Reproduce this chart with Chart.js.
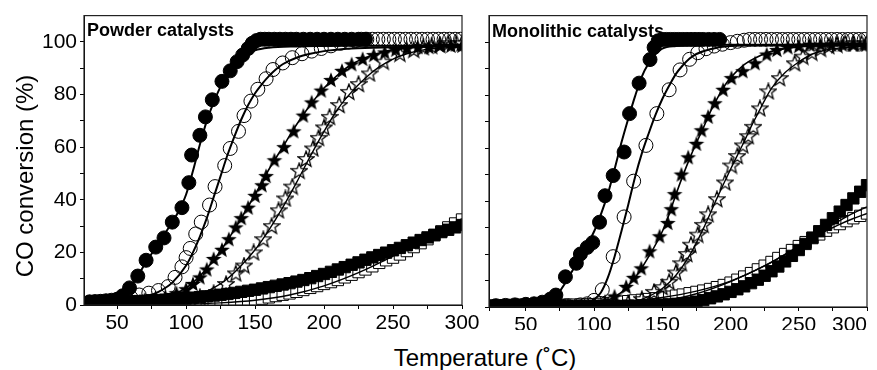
<!DOCTYPE html>
<html><head><meta charset="utf-8">
<script src="https://cdn.jsdelivr.net/npm/chart.js@4.4.0/dist/chart.umd.min.js"></script>
<style>
html,body{margin:0;padding:0;background:#fff;}
#wrap{position:relative;width:877px;height:370px;overflow:hidden;font-family:"Liberation Sans",Arial,sans-serif;color:#000;}
.pane{position:absolute;top:0;height:330px;}
.lab{position:absolute;white-space:nowrap;font-family:"Liberation Sans",Arial,sans-serif;color:#000;}
</style></head><body>
<div id="wrap">
 <div class="pane" style="left:0;width:485px"><canvas id="c1"></canvas></div>
 <div class="pane" style="left:470px;width:407px"><canvas id="c2"></canvas></div>
 <div class="lab" style="left:87px;top:21px;font-weight:bold;font-size:18px;line-height:18px">Powder catalysts</div>
 <div class="lab" style="left:492px;top:22px;font-weight:bold;font-size:18px;line-height:18px">Monolithic catalysts</div>
 <div class="lab" style="left:335px;top:346px;width:300px;text-align:center;font-size:24px;line-height:24px">Temperature (˚C)</div>
 <div class="lab" style="left:-125px;top:164px;width:300px;text-align:center;font-size:24px;line-height:24px;transform:rotate(-90deg)">CO conversion (%)</div>
</div>
<script>
// ---------- tick labels ----------
const xTickVals = [50,75,100,125,150,175,200,225,250,275,300];
const yTickVals = [0,10,20,30,40,50,60,70,80,90,100];

// ---------- Powder catalysts ----------
const powderFilledCircles = [[30,1.2],[34,1.3],[38,1.4],[42,1.6],[46,1.8],[50,2.2],[54,3.5],[59,6.5],[65,11],[71,17],[78,22],[84,25.5],[90,31.5],[97,37],[102,46.5],[104,57],[110,64.5],[114,71.5],[119,78],[126,85],[132,89],[137,92.5],[141,95],[145,97.5],[148,99.5],[151,100.5],[154,101],[157,101],[160,101],[164,101],[168,101],[172,101],[176,101],[180,101],[185,101],[190,101],[195,101],[200,101],[205,101],[210,101],[215,101],[220,101],[225,101],[230,101]];
const powderOpenCircles = [[30,1],[36,1],[42,1.2],[48,1.5],[54,2],[60,2.8],[66,3.8],[73,4.5],[80,5.5],[87,7],[92,10.5],[97,14.5],[100,18],[103,21.5],[107,27],[111,31.5],[117,38],[121,45],[128,53],[132,59.5],[138,66],[142,72],[147,77.5],[152,82],[158,86],[163,89.5],[170,92],[177,94],[184,95.5],[191,96.5],[198,97.5],[205,98.5],[212,99.5],[218,100],[223,100.5],[227,101],[231,101],[235,101],[239,101],[243,101],[247,101],[251,101],[255,101],[259,101],[263,101],[267,101],[271,101],[275,101],[279,101],[283,101],[287,101],[291,101],[295,101],[299,101]];
const powderFilledStars = [[40,1],[50,1.2],[60,1.5],[70,2],[78,2.5],[85,3],[93,4.5],[100,6],[105,8],[110,10.5],[115,13.5],[120,17.5],[126,21],[131,25],[136,29.5],[140,33],[145,37],[150,41.5],[155,45.5],[158,49],[164,55],[171,60],[178,66],[185,72],[191,77],[198,81.5],[205,85.5],[213,89],[220,91.5],[228,93.5],[236,95],[244,96],[252,97],[260,97.5],[268,98],[276,98],[284,98.5],[292,98.5],[300,98.5]];
const powderOpenStars = [[60,0.5],[75,1],[90,1.5],[100,2],[110,3],[120,4.5],[129,8],[136,12],[142,15],[149,20],[156,25],[162,30],[167,36],[172,40.5],[177,45],[182,51],[187,55.5],[192,59.5],[196,63.5],[200,67.5],[204,71.5],[211,76],[218,81],[225,84],[233,88],[243,92.5],[255,95.5],[265,97],[272,98],[278,98.5],[284,99],[290,99.5],[296,99.5],[300,99.5]];
const powderSquareT = [30,35,40,45,50,55,60,65,70,75,80,85,90,95,100,105,110,115,120,125,130,135,140,145,150,155,160,165,170,175,180,185,190,195,200,205,210,215,220,225,230,235,240,245,250,255,260,265,270,275,280,285,290,295,300];
const powderFilledSquares = [1.0,1.0,1.0,1.1,1.2,1.3,1.4,1.5,1.6,1.8,1.9,2.0,2.2,2.4,2.6,2.8,3.0,3.3,3.6,3.9,4.2,4.6,5.0,5.4,5.8,6.3,6.8,7.3,7.8,8.3,8.9,9.5,10.2,11.0,11.8,12.6,13.5,14.4,15.3,16.2,17.2,18.1,19.0,19.9,20.8,21.7,22.7,23.7,24.7,25.7,26.7,27.7,28.6,29.5,30.4];
const powderOpenSquares = [0.3,0.3,0.3,0.3,0.3,0.3,0.3,0.3,0.3,0.3,0.3,0.4,0.4,0.4,0.5,0.5,0.6,0.7,0.8,1.0,1.1,1.3,1.5,1.7,2.0,2.4,2.9,3.4,3.9,4.4,5.0,5.7,6.5,7.2,8.0,8.7,9.5,10.5,11.5,12.5,13.5,14.7,16.0,17.0,18.0,19.2,20.5,22.0,23.5,25.0,26.5,28.0,29.5,31.0,32.5];
// fitted curves
const powderFitFC = [[28,1],[40,1.3],[50,2.3],[55,4],[60,7],[65,11],[70,15.5],[75,19.5],[80,23.5],[85,27.5],[90,31.5],[95,36],[100,42],[105,51],[110,61],[115,70],[120,77],[125,83],[130,87.5],[135,91],[140,93.5],[145,95.5],[150,96.8],[160,97.8],[180,98.3],[220,98.5],[300,98.5]];
const powderFitOC = [[40,0.8],[50,1],[60,2],[70,3],[80,5],[90,8.5],[100,15],[105,20],[110,26],[115,33],[120,41],[125,49],[130,57],[135,64],[140,70.5],[145,76],[150,80.5],[155,84],[160,87],[165,89.5],[170,91.5],[180,94],[190,95.5],[200,96.5],[220,97.5],[250,98],[300,98.5]];
const powderFitFS = [[50,0.8],[60,1],[70,1.5],[80,2.5],[90,4],[100,6.5],[110,11],[120,17],[130,24.5],[140,33],[150,42],[160,51.5],[170,60],[180,68.5],[190,76],[200,82.5],[210,87.5],[220,91.5],[230,94],[240,95.8],[250,97],[270,98],[300,98.5]];
const powderFitOS = [[60,0.5],[80,1],[100,2.5],[110,4],[120,6.5],[130,10],[140,15],[150,21],[160,28.5],[170,37],[180,46.5],[190,56.5],[200,66],[210,74.5],[220,81],[230,86.3],[240,90.5],[250,93.5],[260,95.5],[270,96.8],[285,97.7],[300,98]];
const powderFitFQ = [[28,0.6],[50,0.9],[75,1.4],[100,2.1],[125,3.4],[150,5.3],[175,7.9],[200,11.3],[225,15.6],[250,20.5],[275,25.6],[300,30.6]];
const powderFitOQ = [[28,0],[75,0.1],[100,0.3],[125,0.8],[150,1.8],[175,3.8],[200,7.3],[225,12.3],[250,18.6],[275,25.6],[300,32.8]];

// ---------- Monolithic catalysts ----------
const monoFilledCircles = [[28,0.5],[35,0.6],[42,0.8],[50,1],[56,1.2],[62,1.8],[68,3],[72,4.5],[79,11.4],[87,16.5],[90,20],[95,22.5],[99,24.3],[104,32],[108,42],[114,49.6],[122,58.5],[126,73],[133,84.5],[141,93.4],[144,98],[147,100.5],[150,101],[153,101],[156,101],[159,101],[162,101],[165,101],[168,101],[171,101],[174,101],[177,101],[180,101],[184,101],[188,101],[192,101]];
const monoOpenCircles = [[80,0.5],[90,0.8],[95,1.2],[100,2.5],[106,6.5],[114,19],[122,34],[129,47.5],[138,61],[146,73],[155,82],[163,89.5],[170,93.5],[176,96],[182,97.5],[188,98.5],[194,99.2],[200,99.8],[205,100.3],[210,100.7],[214,101],[218,101],[222,101],[226,101],[230,101],[234,101],[238,101],[242,101],[246,101],[250,101],[254,101],[258,101],[262,101],[266,101],[270,101],[274,101],[278,101],[282,101],[286,101],[290,101],[294,101],[298,101]];
const monoFilledStars = [[90,0.5],[100,1],[108,2],[115,4],[123.5,7.6],[129,11],[134.6,14.6],[140.7,21],[148,26.7],[154,31.7],[156.6,36.9],[159,42.6],[164,50],[169,56.5],[175,61.6],[178.7,66.7],[183.6,71.8],[188.5,76.9],[194.6,82],[200.7,86.4],[209,89],[218,92],[226.5,95.3],[234,97],[242,98],[250,98.5],[258,99],[266,99],[274,99],[282,99],[290,99],[298,99]];
const monoOpenStars = [[110,0.5],[125,1.5],[135,3],[144,5.7],[150,7.5],[155,9.5],[160,13],[164,16.5],[168,20],[171,23.5],[176,27.3],[180,31],[183.6,35],[190,40.7],[196,47],[200.7,53.4],[205,57],[209,61],[213,64.5],[216.7,68],[221.5,75],[227.7,81.4],[236,86.4],[247,92],[253,94.5],[259.6,96],[266,97.5],[272,98.5],[278,99],[284,99.5],[290,99.5],[296,99.5],[300,99.5]];
const monoSquareT = [25,30,35,40,45,50,55,60,65,70,75,80,85,90,95,100,105,110,115,120,125,130,135,140,145,150,155,160,165,170,175,180,185,190,195,200,205,210,215,220,225,230,235,240,245,250,255,260,265,270,275,280,285,290,295,300];
const monoFilledSquares = [0.6,0.6,0.7,0.8,0.9,0.9,0.8,0.7,0.6,0.5,0.5,0.4,0.4,0.4,0.4,0.4,0.4,0.4,0.4,0.4,0.5,0.5,0.6,0.7,0.8,0.9,1.0,1.2,1.4,1.6,2.0,2.6,3.3,4.0,4.8,5.7,6.7,7.8,9.0,10.3,11.8,13.5,15.3,17.2,19.3,21.5,23.8,26.2,28.6,31.0,33.5,36.0,38.5,41.0,43.5,46.0];
const monoOpenSquares = [0.3,0.3,0.4,0.4,0.5,0.5,0.6,0.6,0.7,0.7,0.8,0.8,0.9,0.9,1.0,1.0,1.2,1.5,1.7,2.0,2.2,2.5,2.7,3.0,3.3,3.6,3.9,4.3,4.7,5.2,5.7,6.2,6.8,7.5,8.3,9.2,10.3,11.5,12.8,14.2,15.6,17.0,18.5,20.0,21.5,23.0,24.5,26.0,27.4,28.8,30.1,31.3,32.4,33.5,34.4,35.3];
const monoFitFC = [[60,0.5],[65,1],[70,2.5],[75,6],[80,10],[85,14.5],[90,19],[95,23.5],[100,28.5],[105,35],[110,42.5],[115,52],[120,62],[125,71],[130,79.5],[135,87],[140,92],[145,95.5],[150,97.5],[160,98.5],[180,99],[300,99]];
const monoFitOC = [[85,0.5],[90,0.8],[95,1.5],[100,2.8],[105,5.5],[110,11],[115,19],[120,28.5],[125,38.5],[130,49],[135,58],[140,65.5],[145,72.5],[150,78.5],[155,83.5],[160,88],[165,91.2],[170,93.8],[175,95.5],[185,97.3],[200,98.5],[250,99],[300,99]];
const monoFitFS = [[90,0.5],[100,1],[110,2.5],[120,5.5],[130,11],[140,19],[150,28.5],[155,35],[160,42.5],[165,49.5],[170,56],[175,62],[180,67.5],[185,73.5],[190,78.5],[195,83],[200,86.5],[210,91.5],[220,94.5],[230,96.5],[240,97.5],[260,98.5],[300,99]];
const monoFitOS = [[110,0.5],[120,1],[130,2],[140,4],[150,7],[160,12],[170,19.5],[180,29.5],[190,41],[200,52],[210,62.5],[215,68],[220,73],[225,78],[230,82.5],[240,88.5],[250,92.5],[260,95.5],[270,97],[285,98],[300,98.5]];
const monoFitFQ = [[25,0.3],[75,0.3],[100,0.4],[125,0.9],[150,2.2],[175,5],[200,9.6],[225,15.6],[250,23],[260,26.3],[270,29.6],[280,32.6],[290,35.4],[300,37.8]];
const monoFitOQ = [[25,0.5],[75,0.8],[100,1.2],[125,2.1],[150,3.6],[175,6],[200,9.8],[225,15.5],[250,22.8],[260,25.8],[270,28.7],[280,31.2],[290,33.4],[300,35.3]];

// ---------- helpers ----------
const FONT = "'Liberation Sans', Arial, sans-serif";
const pts = a => a.map(p => ({x:p[0], y:p[1]}));
const zip = (T, Y) => T.map((t,i) => ({x:t, y:Y[i]}));

function starImg(filled){
  const c = document.createElement('canvas'); const s = 18; c.width = s; c.height = s;
  const g = c.getContext('2d'); const R = 8.3, r = 3.5, cx = s/2, cy = s/2 + 0.5;
  g.beginPath();
  for (let i = 0; i < 10; i++){
    const a = -Math.PI/2 + i*Math.PI/5; const rr = (i % 2) ? r : R;
    g.lineTo(cx + rr*Math.cos(a), cy + rr*Math.sin(a));
  }
  g.closePath();
  if (filled){ g.fillStyle = '#000'; g.fill(); }
  else { g.strokeStyle = '#000'; g.lineWidth = 1.3; g.stroke(); }
  return c;
}
const STAR_F = starImg(true), STAR_O = starImg(false);

function marker(data, style, bg, order, radius){
  return {data, showLine:false, pointStyle:style, pointRadius:radius || 7, pointBackgroundColor:bg,
          pointBorderColor:'#000', pointBorderWidth:1, order};
}
function fit(data, w){
  return {data, showLine:true, pointRadius:0, borderColor:'#000', borderWidth:w,
          cubicInterpolationMode:'monotone', fill:false, order:0};
}

const frame = {id:'frame', afterDatasetsDraw(chart){
  const {ctx, chartArea:a} = chart; ctx.save();
  ctx.strokeStyle = '#222'; ctx.lineWidth = 1.2;
  ctx.strokeRect(a.left, a.top, a.right - a.left, a.bottom - a.top); ctx.restore();
}};

function makeChart(id, isLeft, xmin, sets){
  const tickFont = {family:FONT, size:21};
  const grid = {drawOnChartArea:false, drawTicks:true, tickLength:4, color:'#000'};
  const border = {display:true, color:'#000', width:1};
  return new Chart(document.getElementById(id), {
    type:'scatter',
    data:{datasets:[
      fit(sets.fitFC,2), fit(sets.fitOC,2), fit(sets.fitFS,1.6), fit(sets.fitOS,1.4), fit(sets.fitFQ,1.4), fit(sets.fitOQ,1.4),
      marker(pts(sets.fc),'circle','#000',1),
      marker(pts(sets.oc),'circle','rgba(0,0,0,0)',2),
      marker(pts(sets.fs),STAR_F,'#000',3),
      marker(pts(sets.os),STAR_O,'rgba(0,0,0,0)',4),
      marker(zip(sets.qT,sets.fq),'rect','#000',5,8),
      marker(zip(sets.qT,sets.oq),'rect','#fff',6,8)
    ]},
    options:{
      responsive:true, maintainAspectRatio:false, animation:false, events:[],
      layout:{padding: isLeft ? {top:13,right:23,left:0,bottom:0} : {top:15,right:10,left:0,bottom:0}},
      plugins:{legend:{display:false}, tooltip:{enabled:false}},
      scales:{
        x:{type:'linear', min:xmin, max:300,
           afterBuildTicks: s => { s.ticks = (isLeft ? xTickVals : [xmin].concat(xTickVals)).map(v => ({value:v})); },
           afterFit: s => { s.height = isLeft ? 25 : 23; },
           ticks:{autoSkip:false, maxRotation:0, padding:2, color:'#000', font:tickFont,
                  align: isLeft ? 'center' : 'inner',
                  callback: v => (v % 50 === 0) ? String(v) : ''},
           grid, border},
        y:{type:'linear', min:0, max:110,
           afterBuildTicks: s => { s.ticks = yTickVals.map(v => ({value:v})); },
           afterFit: s => { s.width = isLeft ? 84 : 19; },
           ticks:{autoSkip:false, padding:3, color:'#000', font:tickFont,
                  callback: v => (isLeft && v % 20 === 0) ? String(v) : ''},
           grid, border}
      }
    },
    plugins:[frame]
  });
}

makeChart('c1', true, 26, {fc:powderFilledCircles, oc:powderOpenCircles, fs:powderFilledStars, os:powderOpenStars,
  qT:powderSquareT, fq:powderFilledSquares, oq:powderOpenSquares,
  fitFC:powderFitFC, fitOC:powderFitOC, fitFS:powderFitFS, fitOS:powderFitOS, fitFQ:powderFitFQ, fitOQ:powderFitOQ});
makeChart('c2', false, 23, {fc:monoFilledCircles, oc:monoOpenCircles, fs:monoFilledStars, os:monoOpenStars,
  qT:monoSquareT, fq:monoFilledSquares, oq:monoOpenSquares,
  fitFC:monoFitFC, fitOC:monoFitOC, fitFS:monoFitFS, fitOS:monoFitOS, fitFQ:monoFitFQ, fitOQ:monoFitOQ});
</script>
</body></html>
